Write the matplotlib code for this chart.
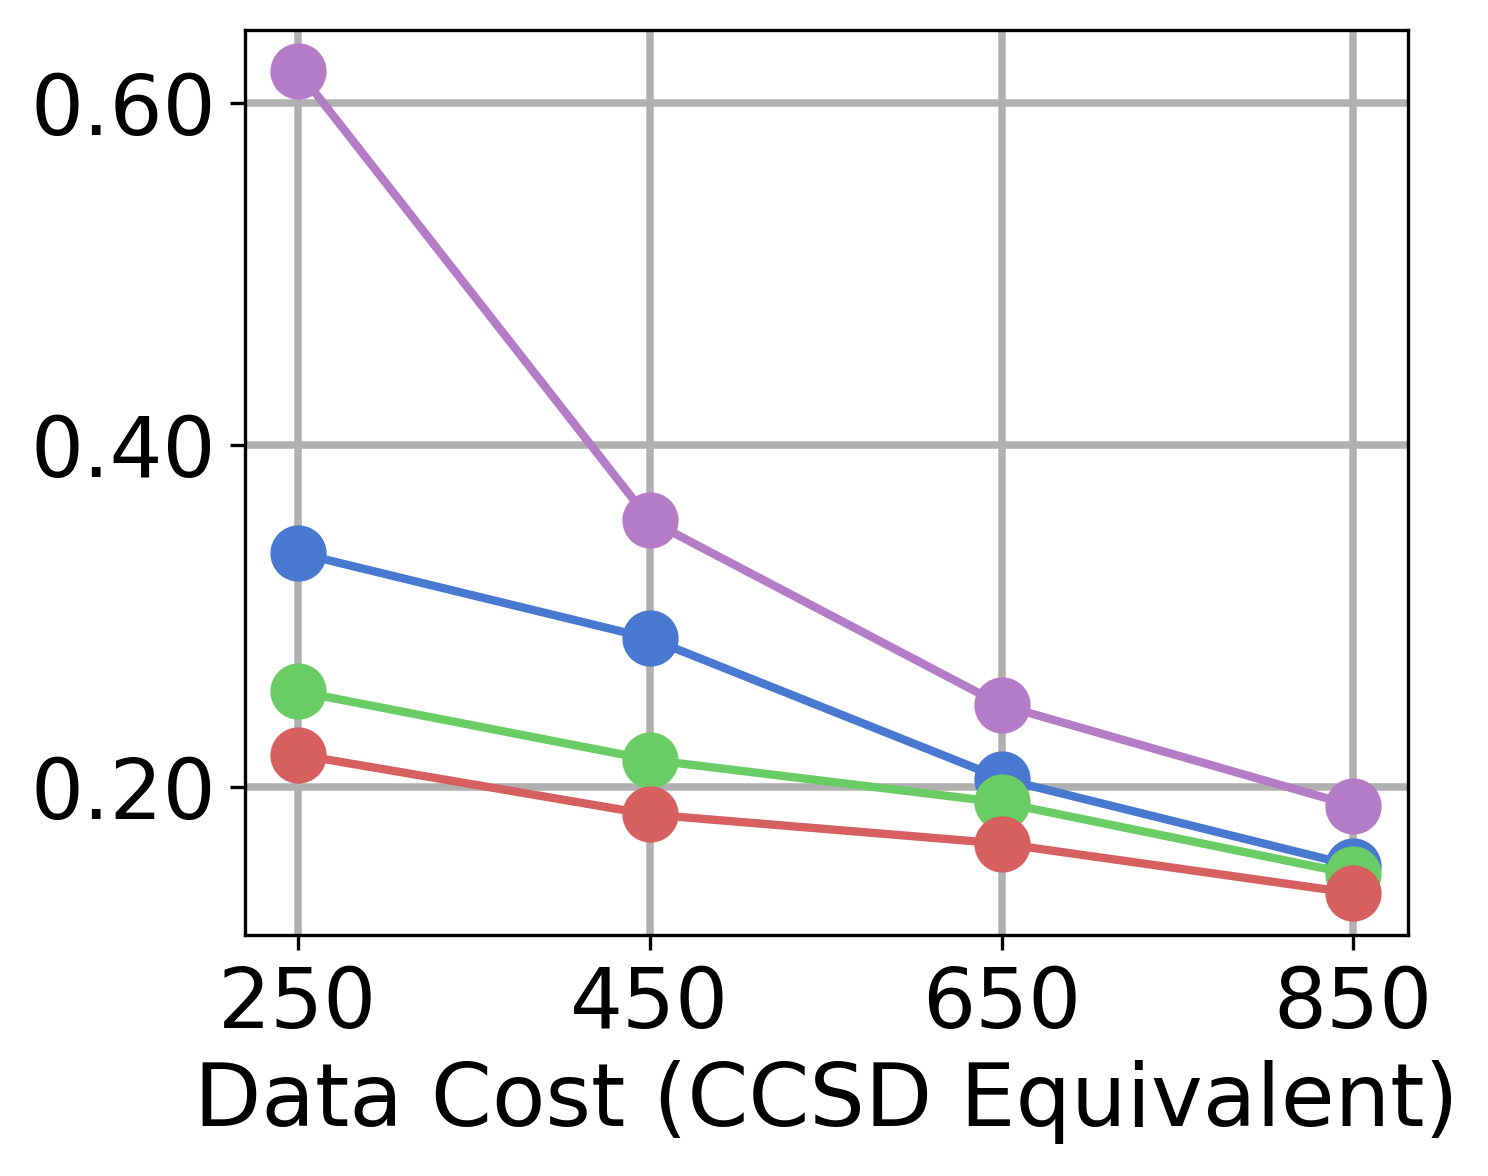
import matplotlib
matplotlib.use('Agg')
import matplotlib.pyplot as plt

# data cost on x, error on y
costs = [250, 450, 650, 850]
series_blue = [0.337, 0.287, 0.205, 0.154]
series_green = [0.256, 0.216, 0.191, 0.149]
series_red = [0.219, 0.184, 0.167, 0.138]
series_purple = [0.619, 0.356, 0.248, 0.189]

colors = ['#4878d0', '#6acc64', '#d65f5f', '#b47cc7']

fig = plt.figure(figsize=(4.96, 3.92), dpi=300)
ax = fig.add_axes([0.1647, 0.2049, 0.7815, 0.7696])

for vals, c in zip([series_blue, series_green, series_red, series_purple], colors):
    ax.plot(costs, vals, color=c, marker='o', markersize=12.5, linewidth=2)

ax.set_xlim(220, 881)
ax.set_ylim(0.1135, 0.6427)
ax.set_xticks(costs)
ax.set_yticks([0.2, 0.4, 0.6])
ax.set_yticklabels(['0.20', '0.40', '0.60'])
ax.grid(True, color='#b0b0b0', linewidth=1.8)
ax.set_axisbelow(True)
ax.tick_params(labelsize=20)
ax.set_xlabel('Data Cost (CCSD Equivalent)', fontsize=21, labelpad=3.5)

fig.savefig('out.png', dpi=300)
